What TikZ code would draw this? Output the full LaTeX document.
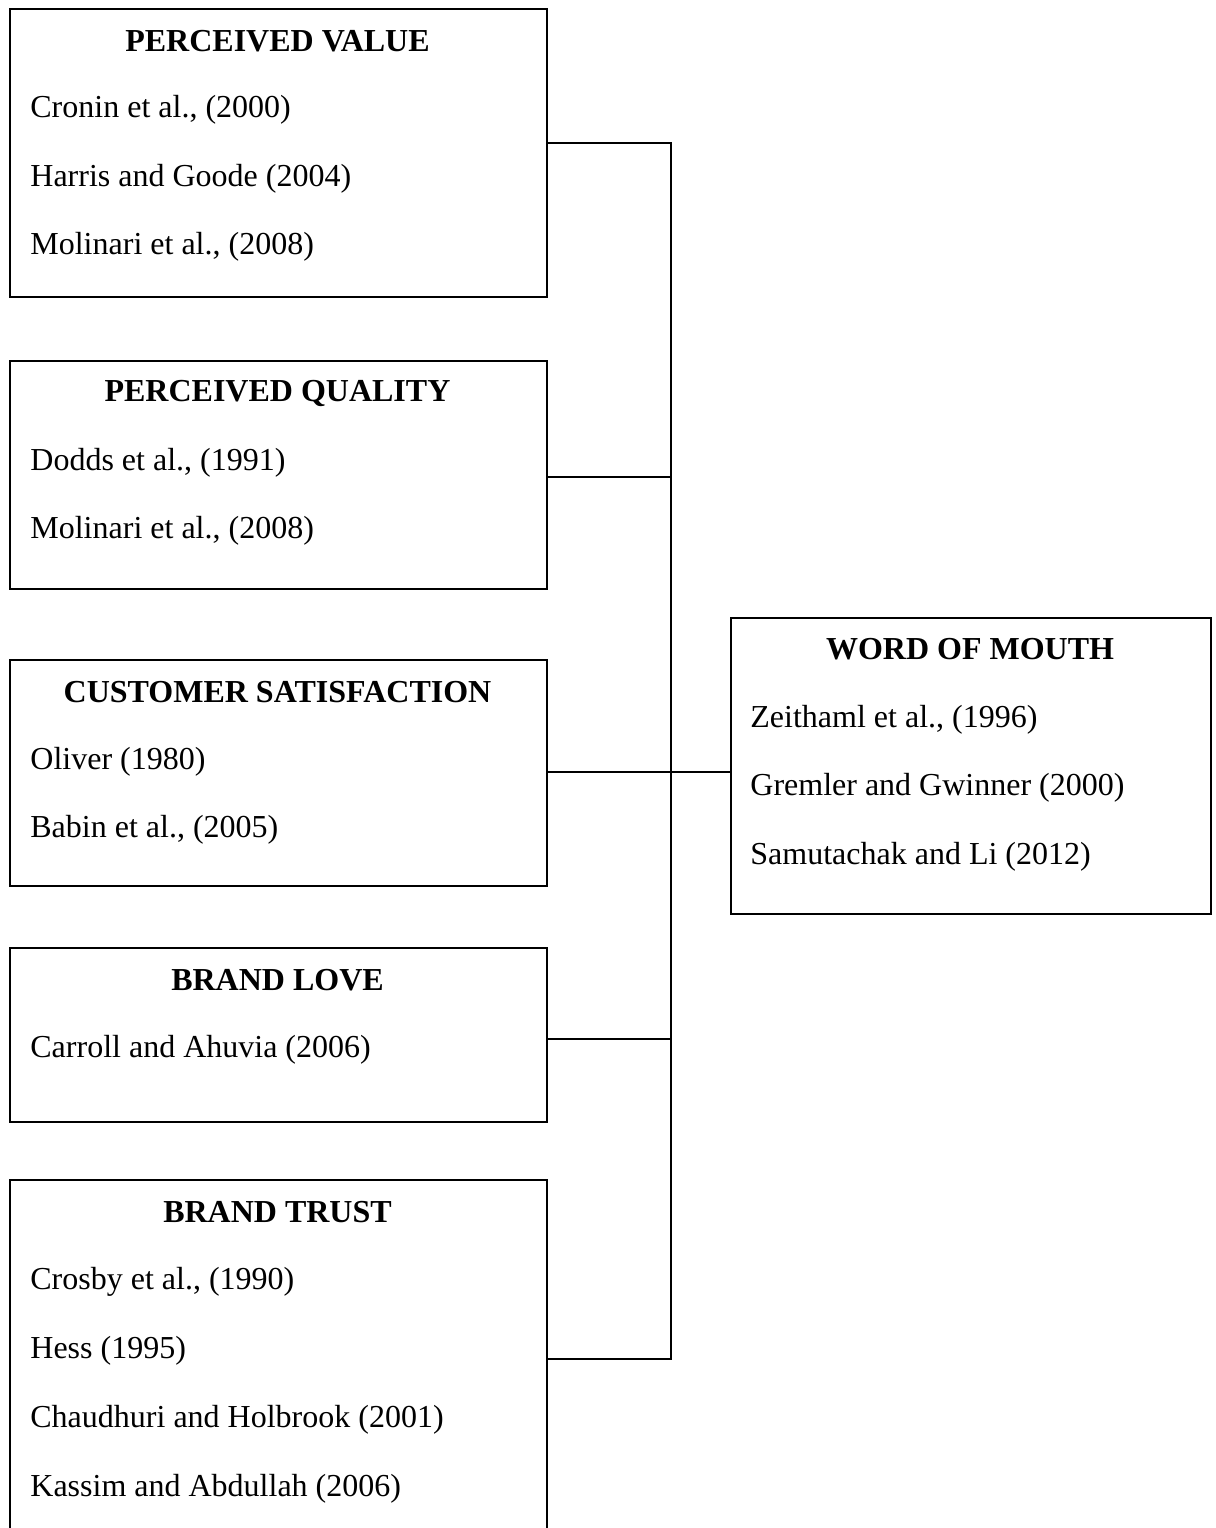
\documentclass[tikz,border=0pt]{standalone}
\usepackage{fontspec}
\setmainfont{Liberation Serif}
\usetikzlibrary{calc}

\begin{document}
\begin{tikzpicture}[x=0.5pt, y=-0.5pt,
            box/.style = {
                draw, line width=1pt, inner sep=0pt,
                anchor=north west, minimum width=268.5pt
            },
            head/.style = {
                inner sep=0pt, font=\fontsize{16}{19}\selectfont\bfseries
            },
            ref/.style = {
                inner sep=0pt, anchor=west, font=\fontsize{16}{19}\selectfont
            },
            link/.style = {
                line width=1pt
            }
            ]

            \clip (0,0) rectangle (1216,1528);

            % left boxes: name/top/bottom/link/title
            \foreach \name/\top/\bot/\out/\title in {pv/8/296/143/PERCEIVED VALUE,
                    pq/360/588/477/PERCEIVED QUALITY,
                    cs/659/885/772/CUSTOMER SATISFACTION,
                    bl/947/1121/1039/BRAND LOVE,
                    bt/1179/1600/1359/BRAND TRUST} {
                \node[box, minimum height={(\bot-\top)*0.5pt}] (\name) at (9,\top) {};
                \node[head] (\name-head) at (277.5,\top+33) {\title};
                \path (\name.east |- 0,\out) coordinate (\name-out);
            }

            % word of mouth
            \node[box, minimum width=240pt, minimum height=148pt] (wom) at (730,617) {};
            \node[head] (wom-head) at (970,649) {WORD OF MOUTH};

            % references
            \foreach \i/\x/\y/\txt in {1/30/107/{Cronin et al., (2000)},
                    2/30/176/{Harris and Goode (2004)},
                    3/30/244/{Molinari et al., (2008)},
                    4/30/460/{Dodds et al., (1991)},
                    5/30/528/{Molinari et al., (2008)},
                    6/30/759/{Oliver (1980)},
                    7/30/827/{Babin et al., (2005)},
                    8/30/1047/{Carroll and Ahuvia (2006)},
                    9/30/1279/{Crosby et al., (1990)},
                    10/30/1348/{Hess (1995)},
                    11/30/1417/{Chaudhuri and Holbrook (2001)},
                    12/30/1486/{Kassim and Abdullah (2006)},
                    13/750/717/{Zeithaml et al., (1996)},
                    14/750/785/{Gremler and Gwinner (2000)},
                    15/750/854/{Samutachak and Li (2012)}} {
                \node[ref] (ref\i) at (\x,\y+3) {\txt};
            }

            % connectors
            \coordinate (bus) at (671,772);
            \draw[link] (pv-out) -- (pv-out -| bus) -- (bt-out -| bus) -- (bt-out);
            \foreach \name in {pq, cs, bl} {
                \draw[link] (\name-out) -- (\name-out -| bus);
            }
            \draw[link] (bus) -- (wom.west |- bus);

        \end{tikzpicture}
\end{document}
